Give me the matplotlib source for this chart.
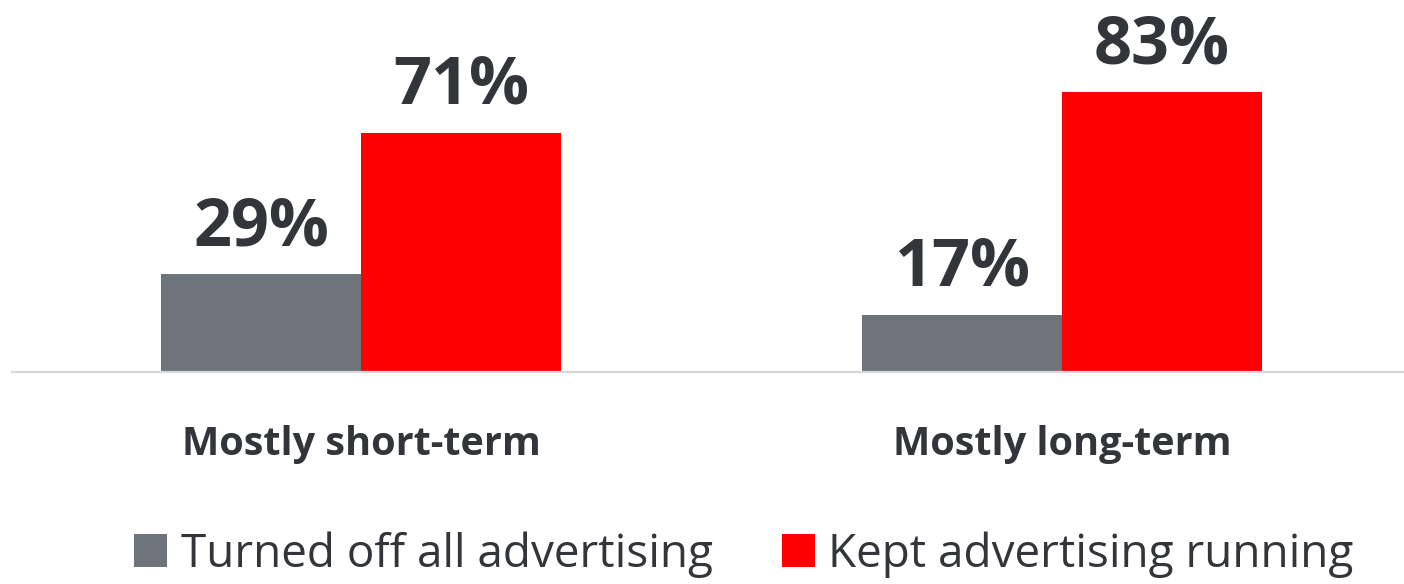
import matplotlib
matplotlib.use("Agg")
import matplotlib.pyplot as plt
import numpy as np

plt.rcParams["font.family"] = ["Open Sans", "DejaVu Sans"]

categories = ["Mostly short-term", "Mostly long-term"]
series_names = ["Turned off all advertising", "Kept advertising running"]
turned_off = [29, 17]
kept_running = [71, 83]

GRAY = "#6d747b"
RED = "#ff0000"
TEXT = "#323539"

W, H = 1404, 584
fig = plt.figure(figsize=(W / 100, H / 100), dpi=100)
ax = fig.add_axes([12 / W, 212 / H, (W - 12) / W, 337 / H])

x = np.arange(len(categories))
width = 200 / 701
b1 = ax.bar(x - width / 2, turned_off, width, color=GRAY, label=series_names[0])
b2 = ax.bar(x + width / 2, kept_running, width, color=RED, label=series_names[1])

# percentage labels above each bar
for bars, vals in [(b1, turned_off), (b2, kept_running)]:
    for rect, v in zip(bars, vals):
        ax.annotate(f"{v}%", (rect.get_x() + rect.get_width() / 2, v),
                    xytext=(0, 21), textcoords="offset points",
                    ha="center", va="baseline", fontsize=48,
                    fontweight="bold", color=TEXT)

ax.set_xlim(-349 / 701, (W - 12) / 701 - 349 / 701)
ax.set_ylim(0, 100)
ax.set_yticks([])
ax.set_xticks([])
for side in ["top", "right", "left"]:
    ax.spines[side].set_visible(False)
ax.spines["bottom"].set_color("#d9d9d9")
ax.spines["bottom"].set_linewidth(1.6)

for xi, cat in zip(x, categories):
    ax.annotate(cat, (xi, 0), xytext=(0, -60), textcoords="offset points",
                ha="center", va="baseline", fontsize=28.5,
                fontweight="bold", color=TEXT)

fig.legend(handles=[b1, b2], loc="lower center", bbox_to_anchor=(744 / W, -0.06),
           ncol=2, frameon=False, fontsize=33, handlelength=0.72,
           handleheight=0.72, handletextpad=0.3, columnspacing=1.5,
           labelcolor=TEXT)

fig.savefig("out.png", dpi=100)
